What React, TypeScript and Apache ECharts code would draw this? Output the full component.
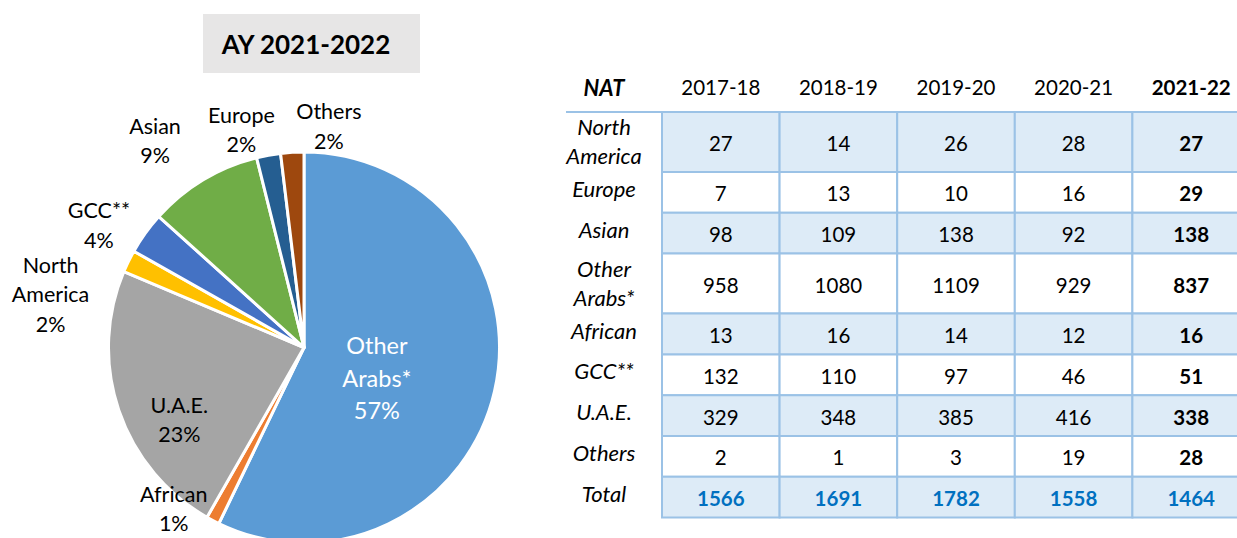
import React, { useEffect, useRef } from 'react';
import * as echarts from 'echarts';

// ---------- data ----------
const titleText = 'AY 2021-2022';
const headerLabel = 'NAT';
const years = ['2017-18', '2018-19', '2019-20', '2020-21', '2021-22'];
const nationalities = ['North America', 'Europe', 'Asian', 'Other Arabs*', 'African', 'GCC**', 'U.A.E.', 'Others'];
const v2017 = [27, 7, 98, 958, 13, 132, 329, 2];
const v2018 = [14, 13, 109, 1080, 16, 110, 348, 1];
const v2019 = [26, 10, 138, 1109, 14, 97, 385, 3];
const v2020 = [28, 16, 92, 929, 12, 46, 416, 19];
const v2021 = [27, 29, 138, 837, 16, 51, 338, 28];
const totalLabel = 'Total';
const totals = [1566, 1691, 1782, 1558, 1464];
// pie (2021-22) slice order, clockwise from 12 o'clock
const pieOrder = ['Other Arabs*', 'African', 'U.A.E.', 'North America', 'GCC**', 'Asian', 'Europe', 'Others'];
const pieShownPct = ['57%', '1%', '23%', '2%', '4%', '9%', '2%', '2%'];

// ---------- styles / layout ----------
const pieColors = ['#5B9BD5', '#ED7D31', '#A5A5A5', '#FFC000', '#4472C4', '#70AD47', '#255E91', '#9E480E'];
const labelAngle = [112.7, 219.0, 240, 281.9, 300.9, 324.25, 344.0, 6.4];
const labelDist = [79, 207, 144, 259, 239, 255, 227, 223];
const FONT = 'Lato';
const W = 1237;
const H = 538;
const CX = 304;
const CY = 347.5;
const R = 195.5;

const byYear = [v2017, v2018, v2019, v2020, v2021];

function buildTable(): any[] {
  const els: any[] = [];
  const TX = 662;
  const COLW = 117.6;
  const LABEL_X = 604;
  const HEADER_Y = 87;
  const TOP = 112;
  const border = '#9BC2E6';
  const shade = '#DDEBF7';
  const rows = [...nationalities, totalLabel];
  // header
  els.push({
    type: 'text', x: LABEL_X, y: HEADER_Y,
    style: { text: headerLabel, fontFamily: FONT, fontSize: 22, fontWeight: 'bold', fontStyle: 'italic', fill: '#000', align: 'center', verticalAlign: 'middle' },
  });
  years.forEach((yr, j) => {
    els.push({
      type: 'text', x: TX + COLW * (j + 0.5), y: HEADER_Y,
      style: { text: yr, fontFamily: FONT, fontSize: 20.5, fontWeight: j === years.length - 1 ? 'bold' : 'normal', fill: '#000', align: 'center', verticalAlign: 'middle' },
    });
  });
  let y0 = TOP;
  rows.forEach((name, r) => {
    const label = name.replace(' ', '\n');
    const lines = label.split('\n').length;
    const h = lines > 1 ? 60 : 40.8;
    const isTotal = r === rows.length - 1;
    for (let j = 0; j < years.length; j++) {
      const val = isTotal ? totals[j] : byYear[j][r];
      els.push({
        type: 'rect',
        shape: { x: TX + j * COLW, y: y0, width: COLW, height: h },
        style: { fill: r % 2 === 0 ? shade : '#ffffff', stroke: border, lineWidth: 2 },
      });
      els.push({
        type: 'text', x: TX + COLW * (j + 0.5), y: y0 + h / 2 + 1, z: 10,
        style: {
          text: String(val), fontFamily: FONT, fontSize: 20.5,
          fontWeight: isTotal || j === years.length - 1 ? 'bold' : 'normal',
          fill: isTotal ? '#0070C0' : '#000', align: 'center', verticalAlign: 'middle',
        },
      });
    }
    els.push({
      type: 'text', x: LABEL_X, y: y0 + h / 2 - (lines > 1 ? 1 : 4),
      style: { text: label, fontFamily: FONT, fontSize: 22, fontStyle: 'italic', fill: '#000', align: 'center', verticalAlign: 'middle', lineHeight: 29 },
    });
    y0 += h;
  });
  els.push({
    type: 'line', z: 20,
    shape: { x1: 566, y1: TOP, x2: TX + COLW * years.length, y2: TOP },
    style: { stroke: border, lineWidth: 2 },
  });
  return els;
}

export default function App() {
  const ref = useRef<HTMLDivElement>(null);
  useEffect(() => {
    document.body.style.margin = '0';
    const chart = echarts.init(ref.current as HTMLDivElement, null, { renderer: 'svg' });
    const pieData = pieOrder.map((name, i) => {
      const idx = nationalities.indexOf(name);
      const isBig = i === 0;
      return {
        name,
        value: v2021[idx],
        itemStyle: { color: pieColors[i] },
        label: isBig ? { color: '#ffffff', fontSize: 23.5, lineHeight: 32.5 } : {},
      };
    });
    chart.setOption({
      animation: false,
      backgroundColor: '#ffffff',
      graphic: [
        {
          type: 'rect',
          shape: { x: 203, y: 14, width: 217, height: 59 },
          style: { fill: '#E7E6E6' },
        },
        {
          type: 'text', x: 306, y: 44,
          style: { text: titleText, fontFamily: FONT, fontSize: 26, fontWeight: 'bold', fill: '#000', align: 'center', verticalAlign: 'middle' },
        },
        ...buildTable(),
      ],
      series: [
        {
          type: 'pie',
          center: [CX, CY],
          radius: R,
          startAngle: 90,
          clockwise: true,
          avoidLabelOverlap: false,
          itemStyle: { borderColor: '#ffffff', borderWidth: 3 },
          label: {
            show: true,
            position: 'outside',
            fontFamily: FONT,
            fontSize: 21.5,
            lineHeight: 29.5,
            color: '#000',
            formatter: (p: any) => p.name.replace(' ', '\n') + '\n' + pieShownPct[p.dataIndex],
          },
          labelLine: { show: false },
          labelLayout: (params: any) => {
            const i = params.dataIndex;
            const a = (labelAngle[i] * Math.PI) / 180;
            return {
              x: CX + labelDist[i] * Math.sin(a),
              y: CY - labelDist[i] * Math.cos(a),
              align: 'center',
              verticalAlign: 'middle',
            };
          },
          emphasis: { disabled: true },
          data: pieData,
        },
      ],
    });
    return () => chart.dispose();
  }, []);
  return <div ref={ref} style={{ width: W, height: H }} />;
}
